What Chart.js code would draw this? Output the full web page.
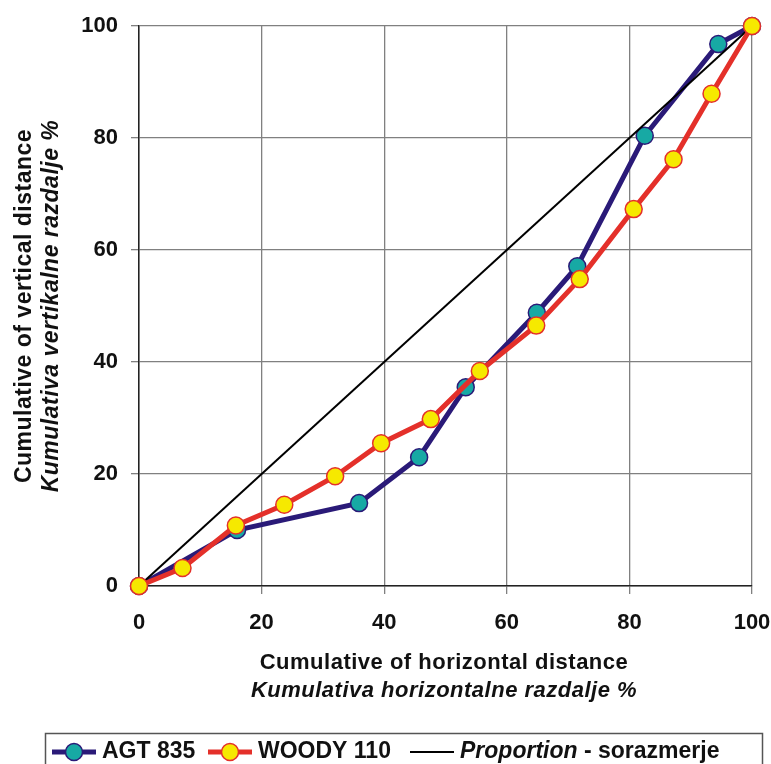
<!DOCTYPE html>
<html>
<head>
<meta charset="utf-8">
<script src="https://cdn.jsdelivr.net/npm/chart.js@4.4.1/dist/chart.umd.min.js"></script>
<style>
  html, body { margin: 0; padding: 0; background: #ffffff; }
  #wrap { width: 771px; height: 764px; position: relative; }
</style>
</head>
<body>
<div id="wrap"><canvas id="c" width="771" height="764"></canvas></div>
<script>
// ---- data ----
const agtX   = [0, 16.0, 35.9, 45.7, 53.3, 64.9, 71.5, 82.5, 94.5, 100];
const agtY   = [0, 10.0, 14.8, 23.0, 35.5, 48.8, 57.1, 80.4, 96.8, 100];
const woodyX = [0, 7.1, 15.8, 23.7, 32.0, 39.5, 47.6, 55.6, 64.8, 71.9, 80.7, 87.2, 93.4, 100];
const woodyY = [0, 3.2, 10.8, 14.5, 19.6, 25.5, 29.8, 38.4, 46.5, 54.8, 67.3, 76.2, 87.9, 100];
const propX  = [0, 100];
const propY  = [0, 100];
const xTicks = [0, 20, 40, 60, 80, 100];
const yTicks = [0, 20, 40, 60, 80, 100];

const seriesNames = ['AGT 835', 'WOODY 110'];
const xTitle = ['Cumulative of horizontal distance', 'Kumulativa horizontalne razdalje %'];
const yTitle = ['Cumulative of vertical distance', 'Kumulativa vertikalne razdalje %'];
const propLegend = ['Proportion', ' - ', 'sorazmerje'];

const FONT = '"Liberation Sans", Arial, Helvetica, sans-serif';
const NAVY = '#2a1a78', TEAL = '#17a9a4', RED = '#e4302a', YELLOW = '#f6e900';

function pts(xs, ys) { return xs.map((x, i) => ({ x: x, y: ys[i] })); }

const titlesAndLegend = {
  id: 'titlesAndLegend',
  afterDraw(chart) {
    const ctx = chart.ctx;
    const ca = chart.chartArea;
    const cx = (ca.left + ca.right) / 2;
    const cy = (ca.top + ca.bottom) / 2;
    ctx.save();
    ctx.fillStyle = '#111';
    ctx.textAlign = 'center';
    ctx.textBaseline = 'middle';
    ctx.letterSpacing = '0.5px';
    // x title
    ctx.font = 'bold 22px ' + FONT;
    ctx.fillText(xTitle[0], 444, 663);
    ctx.font = 'italic bold 22px ' + FONT;
    ctx.fillText(xTitle[1], 444, 691);
    // y title
    ctx.save();
    ctx.translate(25, cy);
    ctx.rotate(-Math.PI / 2);
    ctx.font = 'bold 23px ' + FONT;
    ctx.fillText(yTitle[0], 0, 0);
    ctx.restore();
    ctx.save();
    ctx.translate(52, cy);
    ctx.rotate(-Math.PI / 2);
    ctx.font = 'italic bold 23px ' + FONT;
    ctx.fillText(yTitle[1], 0, 0);
    ctx.restore();
    ctx.letterSpacing = '0px';

    // legend box
    ctx.strokeStyle = '#555';
    ctx.lineWidth = 1.5;
    ctx.strokeRect(45.5, 733.5, 717, 60);
    const ly = 752;
    function sample(x0, color, fill, stroke, marker) {
      ctx.strokeStyle = color;
      ctx.lineWidth = marker ? 5 : 2;
      ctx.beginPath();
      ctx.moveTo(x0, ly);
      ctx.lineTo(x0 + 44, ly);
      ctx.stroke();
      if (marker) {
        ctx.beginPath();
        ctx.arc(x0 + 22, ly, 8.5, 0, Math.PI * 2);
        ctx.fillStyle = fill;
        ctx.fill();
        ctx.lineWidth = 1.5;
        ctx.strokeStyle = stroke;
        ctx.stroke();
      }
    }
    ctx.textAlign = 'left';
    sample(52, NAVY, TEAL, NAVY, true);
    ctx.fillStyle = '#111';
    ctx.font = 'bold 23px ' + FONT;
    ctx.fillText(seriesNames[0], 102, ly);
    sample(208, RED, YELLOW, RED, true);
    ctx.fillStyle = '#111';
    ctx.font = 'bold 23px ' + FONT;
    ctx.fillText(seriesNames[1], 258, ly);
    sample(410, '#000', null, null, false);
    ctx.fillStyle = '#111';
    ctx.font = 'italic bold 23px ' + FONT;
    let x = 460;
    ctx.fillText(propLegend[0], x, ly);
    x += ctx.measureText(propLegend[0]).width;
    ctx.font = 'bold 23px ' + FONT;
    ctx.fillText(propLegend[1], x, ly);
    x += ctx.measureText(propLegend[1]).width;
    ctx.fillText(propLegend[2], x, ly);
    ctx.restore();
  }
};

new Chart(document.getElementById('c'), {
  type: 'line',
  data: {
    datasets: [
      {
        label: seriesNames[1],
        data: pts(woodyX, woodyY),
        borderColor: RED,
        backgroundColor: YELLOW,
        borderWidth: 5,
        pointRadius: 8.5,
        pointBorderWidth: 1.5,
        pointBorderColor: RED,
        pointBackgroundColor: YELLOW,
        tension: 0,
        clip: false
      },
      {
        label: 'Proportion - sorazmerje',
        data: pts(propX, propY),
        borderColor: '#000',
        borderWidth: 2,
        pointRadius: 0,
        tension: 0,
        clip: false
      },
      {
        label: seriesNames[0],
        data: pts(agtX, agtY),
        borderColor: NAVY,
        backgroundColor: TEAL,
        borderWidth: 5,
        pointRadius: 8.5,
        pointBorderWidth: 1.5,
        pointBorderColor: NAVY,
        pointBackgroundColor: TEAL,
        tension: 0,
        clip: false
      }
    ]
  },
  options: {
    responsive: false,
    animation: false,
    devicePixelRatio: 1,
    layout: { padding: { left: 0, right: 19, top: 26, bottom: 0 } },
    plugins: { legend: { display: false }, tooltip: { enabled: false } },
    scales: {
      x: {
        type: 'linear',
        min: 0, max: 100,
        afterBuildTicks: (s) => { s.ticks = xTicks.map(v => ({ value: v })); },
        afterFit: (s) => { s.height = 178; s.paddingLeft = 0; s.paddingRight = 0; },
        grid: { color: '#808080', lineWidth: 1.3, tickLength: 8, drawTicks: true },
        border: { color: '#222', width: 1.5 },
        ticks: { color: '#111', padding: 16, maxRotation: 0,
                 font: { family: FONT, size: 22, weight: 'bold' } }
      },
      y: {
        type: 'linear',
        min: 0, max: 100,
        afterBuildTicks: (s) => { s.ticks = yTicks.map(v => ({ value: v })); },
        afterFit: (s) => { s.width = 139; s.paddingTop = 0; s.paddingBottom = 0; },
        grid: { color: '#808080', lineWidth: 1.3, tickLength: 8, drawTicks: true },
        border: { color: '#222', width: 1.5 },
        ticks: { color: '#111', padding: 13,
                 font: { family: FONT, size: 22, weight: 'bold' } }
      }
    }
  },
  plugins: [titlesAndLegend]
});
</script>
</body>
</html>
